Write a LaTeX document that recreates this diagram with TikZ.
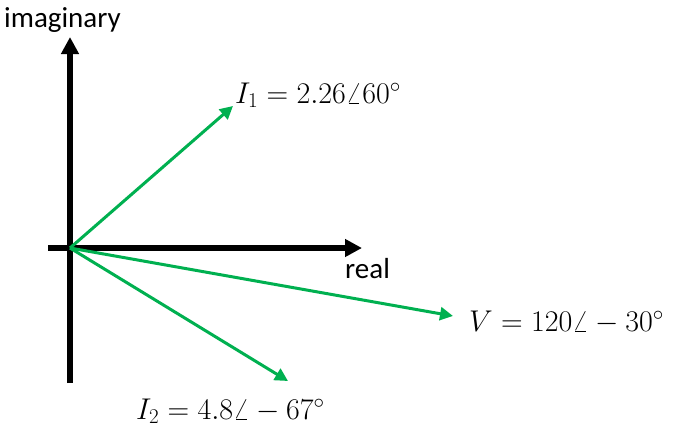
\documentclass[tikz,border=0pt]{standalone}
\usepackage{fix-cm}
\usepackage{fontspec}
\setmainfont{Carlito}
\usetikzlibrary{arrows.meta}
\definecolor{vgreen}{RGB}{0,176,80}
\begin{document}
\begin{tikzpicture}[x=1pt,y=-1pt,
  axis/.style={line width=5.5pt,-{Triangle[length=17pt,width=17pt]}},
  phasor/.style={vgreen,line width=3pt,-{Triangle[length=13pt,width=13pt]}},
  lbl/.style={inner sep=0pt,font=\fontsize{29}{34}\selectfont},
  mlbl/.style={inner sep=0pt,font=\fontsize{30}{36}\selectfont}]
\useasboundingbox (0,0) rectangle (676,434);
\coordinate (O) at (70,248);
\coordinate (ybot) at (70,383);
\coordinate (ytop) at (70,37);
\coordinate (xleft) at (48,248);
\coordinate (xright) at (362,248);
\coordinate (I1) at (233,106);
\coordinate (V) at (453,316);
\coordinate (I2) at (288,381);
\draw[axis] (ybot) -- (ytop);
\draw[axis] (xleft) -- (xright);
\draw[phasor] (O) -- (I1);
\draw[phasor] (O) -- (V);
\draw[phasor] (O) -- (I2);
\node[lbl,anchor=west] (imag) at (4,20) {imaginary};
\node[lbl,anchor=west] (real) at (345,269) {real};
\node[mlbl,anchor=west] (lI1) at (235,95) {$I_1=2.26\angle 60^{\circ}$};
\node[mlbl,anchor=west] (lV) at (469,322) {$V=120\angle-30^{\circ}$};
\node[mlbl,anchor=west] (lI2) at (136,411) {$I_2=4.8\angle-67^{\circ}$};
\end{tikzpicture}
\end{document}
